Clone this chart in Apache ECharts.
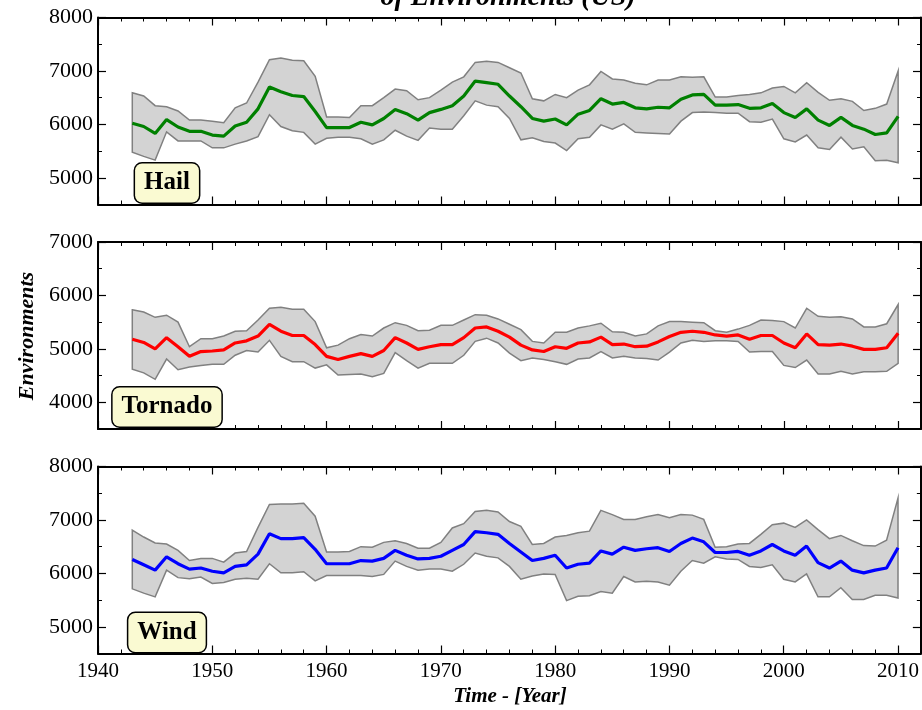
<!DOCTYPE html>
<html>
<head>
<meta charset="utf-8">
<script src="https://cdn.jsdelivr.net/npm/echarts@6/dist/echarts.min.js"></script>
<style>
  html, body { margin: 0; padding: 0; background: #fff; }
  #main { width: 922px; height: 710px; }
</style>
</head>
<body>
<div id="main"></div>
<script>
// years of the record
const years = [
  1943, 1944, 1945, 1946, 1947, 1948, 1949, 1950, 1951, 1952,
  1953, 1954, 1955, 1956, 1957, 1958, 1959, 1960, 1961, 1962,
  1963, 1964, 1965, 1966, 1967, 1968, 1969, 1970, 1971, 1972,
  1973, 1974, 1975, 1976, 1977, 1978, 1979, 1980, 1981, 1982,
  1983, 1984, 1985, 1986, 1987, 1988, 1989, 1990, 1991, 1992,
  1993, 1994, 1995, 1996, 1997, 1998, 1999, 2000, 2001, 2002,
  2003, 2004, 2005, 2006, 2007, 2008, 2009, 2010
];

// Hail
const hailMean = [
  6020, 5960, 5830, 6090, 5950, 5870, 5870, 5800, 5780, 5970,
  6040, 6290, 6700, 6610, 6540, 6520, 6240, 5940, 5940, 5940,
  6040, 5990, 6110, 6280, 6200, 6080, 6220, 6280, 6350, 6530,
  6810, 6780, 6750, 6530, 6330, 6110, 6060, 6100, 5990, 6190,
  6260, 6480, 6380, 6410, 6310, 6290, 6320, 6310, 6470, 6550,
  6560, 6360, 6360, 6370, 6300, 6310, 6390, 6220, 6130, 6290,
  6080, 5980, 6130, 5980, 5910, 5810, 5840, 6150
];
const hailUpper = [
  6590, 6530, 6350, 6330, 6250, 6080, 6080, 6060, 6030, 6310,
  6400, 6790, 7210, 7240, 7200, 7190, 6900, 6140, 6140, 6130,
  6350, 6350, 6500, 6660, 6630, 6460, 6500, 6640, 6790, 6890,
  7160, 7180, 7160, 7060, 6960, 6480, 6440, 6560, 6500, 6640,
  6740, 6990, 6850, 6830, 6770, 6740, 6830, 6830, 6890, 6880,
  6890, 6510, 6510, 6540, 6560, 6590, 6680, 6710, 6590, 6780,
  6600, 6450, 6480, 6430, 6260, 6300, 6380, 7000
];
const hailLower = [
  5480, 5400, 5330, 5860, 5690, 5690, 5690, 5560, 5560, 5630,
  5690, 5770, 6180, 5960, 5880, 5850, 5630, 5740, 5760, 5760,
  5730, 5630, 5710, 5890, 5780, 5700, 5930, 5910, 5910, 6160,
  6440, 6360, 6330, 6110, 5710, 5750, 5680, 5650, 5510, 5730,
  5760, 5990, 5910, 6010, 5850, 5840, 5830, 5820, 6060, 6220,
  6230, 6220, 6210, 6210, 6050, 6040, 6100, 5730, 5670, 5800,
  5560, 5530, 5760, 5540, 5580, 5320, 5330, 5280
];

// Tornado
const tornadoMean = [
  5180, 5120, 5000, 5210, 5040, 4860, 4950, 4960, 4980, 5110,
  5150, 5240, 5460, 5330, 5250, 5250, 5080, 4860, 4800, 4860,
  4910, 4860, 4970, 5210, 5110, 4990, 5040, 5080, 5080, 5210,
  5390, 5410, 5330, 5220, 5070, 4980, 4950, 5040, 5010, 5110,
  5130, 5220, 5080, 5090, 5040, 5050, 5130, 5230, 5310, 5330,
  5310, 5260, 5240, 5260, 5180, 5250, 5250, 5110, 5020, 5280,
  5080, 5070, 5090, 5050, 4990, 4990, 5020, 5290
];
const tornadoUpper = [
  5730, 5690, 5590, 5630, 5500, 5040, 5190, 5190, 5240, 5330,
  5340, 5540, 5760, 5780, 5740, 5740, 5510, 5020, 5070, 5190,
  5270, 5240, 5390, 5490, 5440, 5340, 5350, 5440, 5440, 5540,
  5640, 5630, 5560, 5460, 5360, 5140, 5110, 5310, 5310, 5390,
  5430, 5480, 5320, 5310, 5240, 5280, 5430, 5510, 5510, 5500,
  5490, 5340, 5310, 5370, 5440, 5540, 5530, 5510, 5390, 5760,
  5610, 5590, 5600, 5560, 5410, 5410, 5470, 5830
];
const tornadoLower = [
  4620, 4550, 4430, 4810, 4610, 4660, 4690, 4710, 4710, 4880,
  4970, 4940, 5160, 4860, 4760, 4760, 4640, 4700, 4510, 4520,
  4530, 4480, 4540, 4930, 4780, 4640, 4730, 4730, 4730, 4880,
  5140, 5200, 5110, 4920, 4780, 4830, 4800, 4760, 4710, 4810,
  4830, 4950, 4830, 4860, 4830, 4820, 4790, 4940, 5110, 5160,
  5140, 5150, 5150, 5140, 4940, 4950, 4950, 4690, 4650, 4790,
  4530, 4530, 4580, 4530, 4570, 4570, 4580, 4730
];

// Wind
const windMean = [
  6260, 6160, 6060, 6310, 6180, 6080, 6100, 6040, 6010, 6130,
  6160, 6360, 6740, 6650, 6650, 6670, 6450, 6180, 6180, 6180,
  6240, 6230, 6280, 6430, 6340, 6270, 6280, 6320, 6430, 6540,
  6780, 6760, 6730, 6560, 6400, 6240, 6280, 6340, 6100, 6170,
  6190, 6420, 6360, 6490, 6430, 6460, 6480, 6410, 6560, 6660,
  6590, 6390, 6390, 6410, 6340, 6420, 6540, 6420, 6340, 6510,
  6200, 6100, 6230, 6060, 6010, 6060, 6100, 6480
];
const windUpper = [
  6810, 6680, 6570, 6550, 6430, 6240, 6280, 6280, 6210, 6380,
  6410, 6860, 7290, 7300, 7300, 7310, 7070, 6400, 6400, 6410,
  6500, 6490, 6580, 6610, 6560, 6470, 6470, 6580, 6850, 6930,
  7160, 7180, 7150, 6970, 6880, 6540, 6560, 6680, 6710, 6760,
  6790, 7180, 7100, 7010, 7010, 7060, 7100, 7040, 7100, 7090,
  7010, 6490, 6500, 6550, 6560, 6730, 6910, 6940, 6860, 7000,
  6820, 6650, 6710, 6610, 6520, 6510, 6620, 7410
];
const windLower = [
  5710, 5630, 5560, 6060, 5920, 5900, 5930, 5810, 5830, 5890,
  5910, 5890, 6180, 6010, 6010, 6030, 5860, 5960, 5960, 5960,
  5960, 5940, 5980, 6230, 6130, 6060, 6080, 6080, 6040, 6170,
  6380, 6320, 6290, 6130, 5890, 5950, 5990, 5980, 5490, 5570,
  5580, 5660, 5630, 5940, 5840, 5850, 5840, 5780, 6040, 6240,
  6190, 6310, 6270, 6260, 6130, 6110, 6160, 5890, 5840, 5990,
  5560, 5560, 5730, 5510, 5510, 5590, 5590, 5540
];

// x axis ticks
const decadeTicks = [1940, 1950, 1960, 1970, 1980, 1990, 2000, 2010];

const panels = [
  { name: 'Hail', mean: hailMean, upper: hailUpper, lower: hailLower, color: '#008000',
    top: 17.5, min: 4500, max: 8000, ticks: [5000, 6000, 7000, 8000], boxY: 183 },
  { name: 'Tornado', mean: tornadoMean, upper: tornadoUpper, lower: tornadoLower, color: '#ff0000',
    top: 242, min: 3500, max: 7000, ticks: [4000, 5000, 6000, 7000], boxY: 407 },
  { name: 'Wind', mean: windMean, upper: windUpper, lower: windLower, color: '#0000ff',
    top: 466.5, min: 4500, max: 8000, ticks: [5000, 6000, 7000, 8000], boxY: 632.5 }
];

const serif = '"Liberation Serif", "DejaVu Serif", serif';
const plain = function (v) { return String(v); };
const grids = [], xAxes = [], yAxes = [], series = [], graphics = [];

panels.forEach(function (p, g) {
  grids.push({ left: 98, right: 1, top: p.top, height: 187 });

  ['bottom', 'top'].forEach(function (pos) {
    // major ticks, every 10 years
    xAxes.push({
      type: 'value', gridIndex: g, position: pos, min: 1940, max: 2012,
      axisLine: { show: true, onZero: false, lineStyle: { color: '#000', width: 2 } },
      axisTick: { show: true, inside: true, length: 8, customValues: decadeTicks,
        lineStyle: { color: '#000', width: 1.2 } },
      axisLabel: { show: pos === 'bottom' && g === 2, customValues: decadeTicks, formatter: plain,
        color: '#000', fontFamily: serif, fontSize: 21, margin: 7 },
      splitLine: { show: false }
    });
    // minor ticks, every 2 years
    xAxes.push({
      type: 'value', gridIndex: g, position: pos, min: 1940, max: 2012, interval: 2,
      axisLine: { show: false },
      axisTick: { show: true, inside: true, length: 4, lineStyle: { color: '#000', width: 1 } },
      axisLabel: { show: false },
      splitLine: { show: false }
    });
  });

  ['left', 'right'].forEach(function (pos) {
    yAxes.push({
      type: 'value', gridIndex: g, position: pos, min: p.min, max: p.max,
      axisLine: { show: true, onZero: false, lineStyle: { color: '#000', width: 2 } },
      axisTick: { show: true, inside: true, length: 8, customValues: p.ticks,
        lineStyle: { color: '#000', width: 1.2 } },
      axisLabel: { show: pos === 'left', customValues: p.ticks, formatter: plain,
        color: '#000', fontFamily: serif, fontSize: 22, margin: 5 },
      splitLine: { show: false }
    });
    yAxes.push({
      type: 'value', gridIndex: g, position: pos, min: p.min, max: p.max, interval: 500,
      axisLine: { show: false },
      axisTick: { show: true, inside: true, length: 4, lineStyle: { color: '#000', width: 1 } },
      axisLabel: { show: false },
      splitLine: { show: false }
    });
  });

  // shaded band between lower and upper
  series.push({
    type: 'custom',
    xAxisIndex: 4 * g, yAxisIndex: 4 * g,
    data: years.map(function (y, i) { return [y, p.lower[i], p.upper[i]]; }),
    encode: { x: 0, y: [1, 2] },
    renderItem: function (params, api) {
      if (params.dataIndex !== 0) return null;
      const pts = [];
      for (let i = 0; i < years.length; i++) pts.push(api.coord([years[i], p.upper[i]]));
      for (let i = years.length - 1; i >= 0; i--) pts.push(api.coord([years[i], p.lower[i]]));
      return {
        type: 'polygon',
        shape: { points: pts },
        style: { fill: '#d3d3d3', stroke: '#808080', lineWidth: 1.5 }
      };
    }
  });

  series.push({
    type: 'line',
    name: p.name,
    xAxisIndex: 4 * g, yAxisIndex: 4 * g,
    data: years.map(function (y, i) { return [y, p.mean[i]]; }),
    symbol: 'none',
    lineStyle: { color: p.color, width: 3.2 },
    itemStyle: { color: p.color }
  });

  graphics.push({
    type: 'text', x: 167, y: p.boxY, z: 100,
    style: {
      text: p.name, font: 'bold 25px ' + serif, fill: '#000',
      align: 'center', verticalAlign: 'middle',
      backgroundColor: '#fafad2', borderColor: '#000', borderWidth: 1.5,
      borderRadius: 7, padding: [7, 9]
    }
  });
});

// title (upper line is outside the picture)
graphics.push({
  type: 'text', x: 508, y: 12,
  style: { text: 'of Environments (US)', font: 'italic bold 28px ' + serif, fill: '#000',
    align: 'center', verticalAlign: 'bottom' }
});
graphics.push({
  type: 'text', x: 27, y: 336, rotation: Math.PI / 2,
  style: { text: 'Environments', font: 'italic bold 22px ' + serif, fill: '#000',
    align: 'center', verticalAlign: 'middle' }
});
graphics.push({
  type: 'text', x: 510, y: 697,
  style: { text: 'Time - [Year]', font: 'italic bold 21px ' + serif, fill: '#000',
    align: 'center', verticalAlign: 'middle' }
});

const myChart = echarts.init(document.getElementById('main'));
myChart.setOption({
  animation: false,
  backgroundColor: '#fff',
  grid: grids,
  xAxis: xAxes,
  yAxis: yAxes,
  series: series,
  graphic: graphics
});
</script>
</body>
</html>
